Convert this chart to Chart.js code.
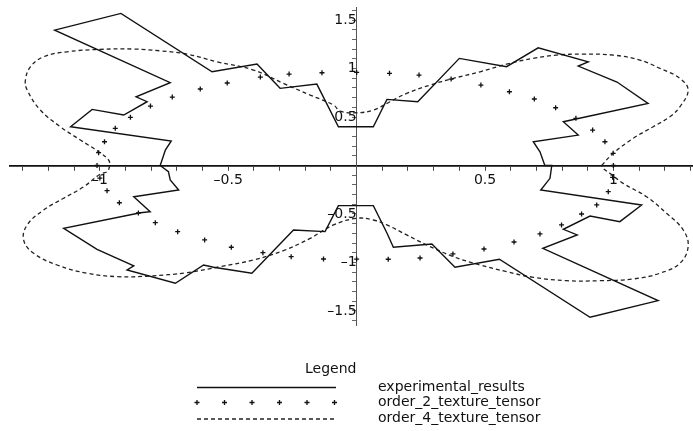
<!DOCTYPE html>
<html>
<head>
<meta charset="utf-8">
<script src="https://cdn.jsdelivr.net/npm/chart.js@4.4.0/dist/chart.umd.min.js"></script>
<style>
  html, body { margin: 0; padding: 0; background: #fff; overflow: hidden; }
  canvas { display: block; }
</style>
</head>
<body>
<canvas id="chart" width="693" height="431"></canvas>
<script>
// experimental_results: closed polyline
const expX = [0.733, 0.714, 0.688, 0.863, 0.805, 1.135, 1.014, 0.863, 0.902, 0.707, 0.584, 0.400, 0.238, 0.118, 0.065, -0.071,
  -0.155, -0.298, -0.388, -0.563, -0.918, -1.176, -0.726, -0.859, -0.816, -0.907, -1.030, -1.114, -0.722, -0.745, -0.765,
  -0.733, -0.726, -0.693, -0.868, -0.804, -0.842, -1.141, -1.011, -0.868, -0.894, -0.706, -0.596, -0.557, -0.408, -0.246, -0.123,
  -0.071, 0.065, 0.118, 0.143, 0.293, 0.383, 0.556, 0.909, 1.174, 0.725, 0.859, 0.805, 0.909, 1.025, 1.110, 0.717, 0.753, 0.760];
const expY = [0, 0.142, 0.245, 0.314, 0.452, 0.641, 0.861, 1.026, 1.070, 1.214, 1.019, 1.105, 0.658, 0.682, 0.400, 0.400,
  0.840, 0.796, 1.046, 0.967, 1.569, 1.397, 0.854, 0.709, 0.658, 0.521, 0.579, 0.400, 0.253, 0.160, 0,
  -0.064, -0.149, -0.253, -0.322, -0.476, -0.487, -0.647, -0.864, -1.036, -1.077, -1.214, -1.026, -1.049, -1.111, -0.665, -0.682,
  -0.414, -0.414, -0.696, -0.843, -0.809, -1.049, -0.967, -1.565, -1.394, -0.854, -0.716, -0.658, -0.521, -0.579, -0.407, -0.253, -0.132, 0];

// order_2_texture_tensor: markers
const ord2X = [1.000, 0.999, 0.967, 0.919, 0.854, 0.775, 0.692, 0.595, 0.484, 0.368, 0.243, 0.128, 0.000, -0.135, -0.263, -0.375,
  -0.504, -0.609, -0.718, -0.803, -0.881, -0.940, -0.982, -1.005, -1.011, -1.000, -0.972, -0.924, -0.850, -0.784, -0.697, -0.592,
  -0.488, -0.365, -0.255, -0.129, 0.000, 0.123, 0.247, 0.375, 0.496, 0.613, 0.714, 0.798, 0.876, 0.935, 0.980, 0.997];
const ord2Y = [0.000, 0.126, 0.245, 0.366, 0.487, 0.596, 0.686, 0.761, 0.830, 0.892, 0.933, 0.951, 0.960, 0.957, 0.943, 0.912,
  0.851, 0.789, 0.706, 0.613, 0.497, 0.384, 0.245, 0.132, 0.000, -0.130, -0.260, -0.384, -0.490, -0.590, -0.682, -0.768,
  -0.843, -0.899, -0.940, -0.964, -0.965, -0.967, -0.954, -0.912, -0.861, -0.789, -0.706, -0.613, -0.500, -0.407, -0.270, -0.122];

// order_4_texture_tensor: smooth dashed closed curve
const ord4X = [0.954, 0.999, 1.077, 1.155, 1.220, 1.259, 1.291, 1.259, 1.181, 1.103, 0.999, 0.882, 0.779, 0.688, 0.584, 0.481,
  0.377, 0.286, 0.195, 0.130, 0.065, 0.000, -0.064, -0.090, -0.181, -0.285, -0.402, -0.544, -0.661, -0.765, -0.868, -0.998,
  -1.128, -1.219, -1.270, -1.290, -1.283, -1.232, -1.154, -1.076, -1.005, -0.966, -0.962,
  -0.972, -0.998, -1.063, -1.141, -1.219, -1.283, -1.297, -1.258, -1.167, -1.050, -0.933, -0.804, -0.661, -0.531, -0.402, -0.285,
  -0.181, -0.090, 0.000, 0.065, 0.118, 0.195, 0.273, 0.377, 0.481, 0.584, 0.688, 0.818, 0.947, 1.077, 1.181, 1.259, 1.291,
  1.272, 1.207, 1.129, 1.038, 0.986, 0.959];
const ord4Y = [0.000, 0.126, 0.280, 0.400, 0.503, 0.606, 0.778, 0.899, 1.002, 1.088, 1.139, 1.149, 1.139, 1.105, 1.046, 0.967,
  0.899, 0.830, 0.744, 0.658, 0.572, 0.544, 0.562, 0.624, 0.727, 0.847, 0.985, 1.070, 1.149, 1.183, 1.201, 1.198,
  1.173, 1.122, 1.019, 0.881, 0.778, 0.572, 0.400, 0.263, 0.142, 0.057, 0.000,
  -0.064, -0.088, -0.219, -0.338, -0.459, -0.613, -0.768, -0.905, -1.026, -1.111, -1.146, -1.139, -1.105, -1.043, -0.974, -0.878,
  -0.751, -0.613, -0.544, -0.562, -0.613, -0.716, -0.820, -0.940, -1.026, -1.095, -1.153, -1.188, -1.188, -1.170, -1.111, -1.008, -0.837,
  -0.665, -0.493, -0.322, -0.184, -0.080, -0.026];

const seriesNames = ['experimental_results', 'order_2_texture_tensor', 'order_4_texture_tensor'];
const xTickLabels = [-1, -0.5, 0.5, 1];
const yTickLabels = [-1.5, -1, -0.5, 0.5, 1, 1.5];

const FONT = { family: 'DejaVu Sans', size: 14 };

function toPoints(xs, ys) {
  return xs.map((x, i) => ({ x, y: ys[i] }));
}
function loop(xs, ys) {
  const pts = toPoints(xs, ys);
  pts.push(pts[0]);
  return pts;
}
// minor ticks every 0.1, labels only on the listed values
function tenthTicks(scale) {
  const ticks = [];
  for (let k = Math.ceil(scale.min * 10 + 1e-9); k <= Math.floor(scale.max * 10 - 1e-9); k++) {
    ticks.push({ value: k / 10 });
  }
  scale.ticks = ticks;
}
function labeler(list) {
  return v => {
    const hit = list.find(t => Math.abs(t - v) < 1e-6);
    if (hit === undefined) return [];
    return (hit < 0 ? '\u2013' : '') + Math.abs(hit);
  };
}

// legend drawn below the plot: title, sample, label
const boxLegend = {
  id: 'boxLegend',
  afterDraw(chart) {
    const ctx = chart.ctx;
    const rows = [387.5, 402.5, 419];
    ctx.save();
    ctx.fillStyle = '#111';
    ctx.font = FONT.size + 'px "' + FONT.family + '"';
    ctx.textBaseline = 'alphabetic';
    ctx.fillText('Legend', 305, 373);
    ctx.textBaseline = 'middle';
    chart.data.datasets.forEach((ds, i) => {
      const y = rows[i];
      ctx.save();
      ctx.strokeStyle = ds.borderColor;
      ctx.lineWidth = ds.borderWidth;
      if (ds.showLine) {
        ctx.setLineDash(ds.borderDash || []);
        ctx.beginPath();
        ctx.moveTo(197, y);
        ctx.lineTo(336, y);
        ctx.stroke();
      } else {
        for (let k = 0; k < 6; k++) {
          Chart.helpers.drawPoint(ctx, { pointStyle: ds.pointStyle, radius: ds.pointRadius, borderWidth: ds.borderWidth }, 197 + k * 27.5, y);
        }
      }
      ctx.restore();
      ctx.fillText(ds.label, 378, y - 0.5);
    });
    ctx.restore();
  }
};

new Chart(document.getElementById('chart'), {
  type: 'scatter',
  data: {
    datasets: [
      { label: seriesNames[0], data: loop(expX, expY), showLine: true, borderColor: '#111', borderWidth: 1.4,
        pointRadius: 0, tension: 0 },
      { label: seriesNames[1], data: toPoints(ord2X, ord2Y), showLine: false, pointStyle: 'cross', pointRadius: 2.5,
        borderColor: '#111', backgroundColor: '#111', borderWidth: 1.3 },
      { label: seriesNames[2], data: loop(ord4X, ord4Y), showLine: true, borderColor: '#222', borderWidth: 1.3,
        borderDash: [4, 3], pointRadius: 0, tension: 0.4 }
    ]
  },
  options: {
    responsive: false,
    animation: false,
    layout: { autoPadding: false, padding: { left: 10, right: 0, top: 7, bottom: 106 } },
    plugins: { legend: { display: false }, tooltip: { enabled: false } },
    scales: {
      x: {
        type: 'linear', min: -1.35, max: 1.31, position: { y: 0 },
        afterBuildTicks: tenthTicks,
        ticks: { callback: labeler(xTickLabels), font: FONT, color: '#111', padding: 2, autoSkip: false, maxRotation: 0 },
        grid: { drawOnChartArea: false, tickLength: 4, tickColor: '#444', tickWidth: 1 },
        border: { color: '#111', width: 1.8 }
      },
      y: {
        type: 'linear', min: -1.645, max: 1.635, position: { x: 0 },
        afterBuildTicks: tenthTicks,
        ticks: { callback: labeler(yTickLabels), font: FONT, color: '#111', padding: 4, autoSkip: false },
        grid: { drawOnChartArea: false, tickLength: 4, tickColor: '#666', tickWidth: 1 },
        border: { color: '#555', width: 1 }
      }
    }
  },
  plugins: [boxLegend]
});
</script>
</body>
</html>
